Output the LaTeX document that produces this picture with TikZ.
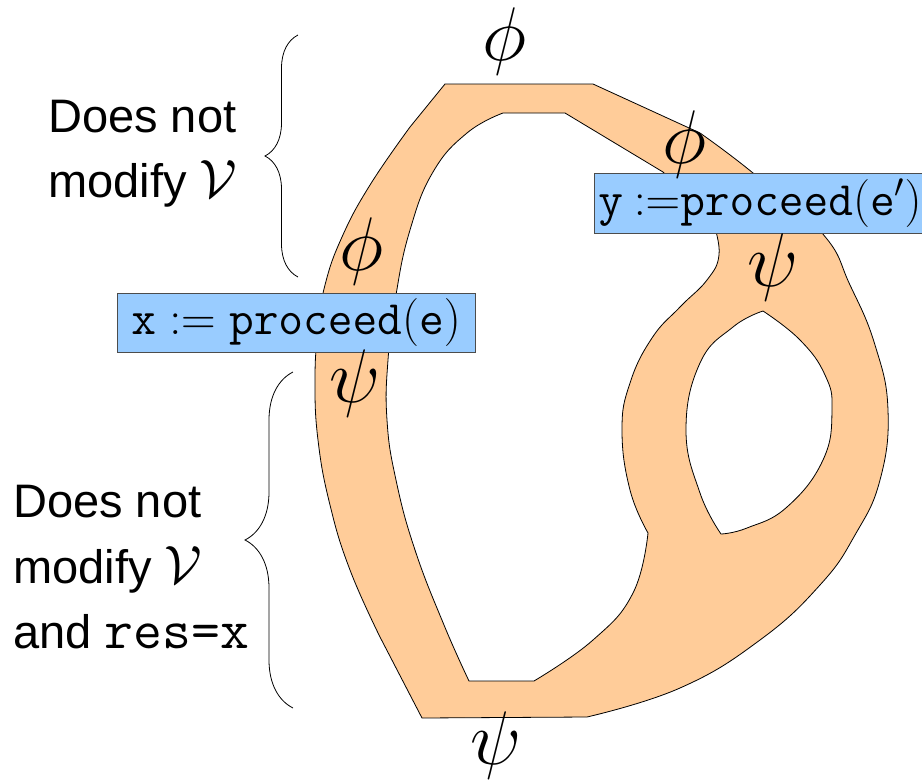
\documentclass[tikz,border=0pt]{standalone}
\usepackage{fix-cm}
\usepackage[no-math]{fontspec}
\setmainfont{Liberation Sans}
\usetikzlibrary{decorations.pathreplacing}

\definecolor{bandorange}{RGB}{255,204,153}
\definecolor{boxblue}{RGB}{153,204,255}

\tikzset{
  band/.style={fill=bandorange, draw=black, line width=0.8pt, even odd rule},
  codebox/.style={draw=black!70, fill=boxblue, line width=0.8pt, inner sep=0pt,
                  font=\fontsize{48}{52}\selectfont},
  sym/.style={inner sep=0pt, font=\fontsize{76}{80}\selectfont},
  lbl/.style={inner sep=0pt, anchor=base west, font=\fontsize{47}{65}\selectfont},
  bracestyle/.style={decorate, decoration={brace, amplitude=#1}, line width=0.8pt},
  sm/.style={smooth, tension=0.75}
}
\newcommand{\bigV}{{\fontsize{54}{60}\selectfont$\mathcal{V}$}}

\begin{document}
\begin{tikzpicture}[x=1pt, y=-1pt]
\useasboundingbox (0,0) rectangle (922,780);

% orange band with two holes
\path[band]
  % outer boundary
  (445,84) -- (593,84) -- (700,133)
  -- plot[sm] coordinates {(700,133) (753,173) (822,233) (850,285) (875,345) (888,410) (880,480) (855,535) (820,585) (760,640) (680,688) (587,717)}
  -- (422,718) -- (380,637)
  -- plot[sm] coordinates {(380,637) (350,570) (330,505) (318,440) (315,380) (318,330) (325,285) (342,237) (370,185) (410,127)}
  -- cycle
  % big hole
  (503,113) -- (565,113) -- (663,172) -- (714,225)
  -- plot[sm] coordinates {(714,225) (719,255) (707,280) (680,307) (652,338) (630,383) (622,430) (630,490) (648,533)}
  -- plot[sm] coordinates {(648,533) (633,593) (593,640) (534,681)}
  -- (469,681)
  -- plot[sm] coordinates {(469,681) (444,625) (415,550) (396,480) (387,420) (388,360) (396,295) (410,230) (433,172) (467,133) (503,113)}
  -- cycle
  % small lens hole
  (763,311)
  -- plot[sm] coordinates {(763,311) (800,340) (825,375) (832,410) (823,460) (787,507) (747,528) (721,534)}
  -- plot[sm] coordinates {(721,534) (700,493) (686,430) (700,363) (733,327) (763,311)}
  -- cycle;

% code boxes
\node[codebox, minimum width=358pt, minimum height=59pt] (xbox) at (296,322.5)
  {$\mathtt{x} := \mathtt{proceed}(\mathtt{e})$};
\node[codebox, anchor=west, minimum height=60pt, text width=330pt, inner xsep=4pt, align=left] (ybox) at (594,203)
  {$\mathtt{y}\mskip4mu{:=}\mathtt{proceed}(\mathtt{e}')$};

% phi / psi labels
\node[sym] (phitop) at (505,41) {$\phi$};
\node[sym] (phiright) at (685,144) {$\phi$};
\node[sym] (phileft) at (362,251) {$\phi$};
\node[sym] (psileft) at (355,383) {$\psi$};
\node[sym] (psiright) at (773,267) {$\psi$};
\node[sym] (psibottom) at (496,745) {$\psi$};

% braces
\draw[bracestyle=33] (298,277) -- (298,35);
\draw[bracestyle=48] (293,708) -- (293,372);

% side texts
\node[lbl] (ta) at (48,132) {Does not};
\node[lbl] (tb) at (48,197) {modify \bigV};
\node[lbl] (ba) at (13,517) {Does not};
\node[lbl] (bb) at (13,583) {modify \bigV};
\node[lbl] (bc) at (13,648) {and {\fontsize{56}{60}\selectfont\texttt{res=x}}};
\end{tikzpicture}
\end{document}
